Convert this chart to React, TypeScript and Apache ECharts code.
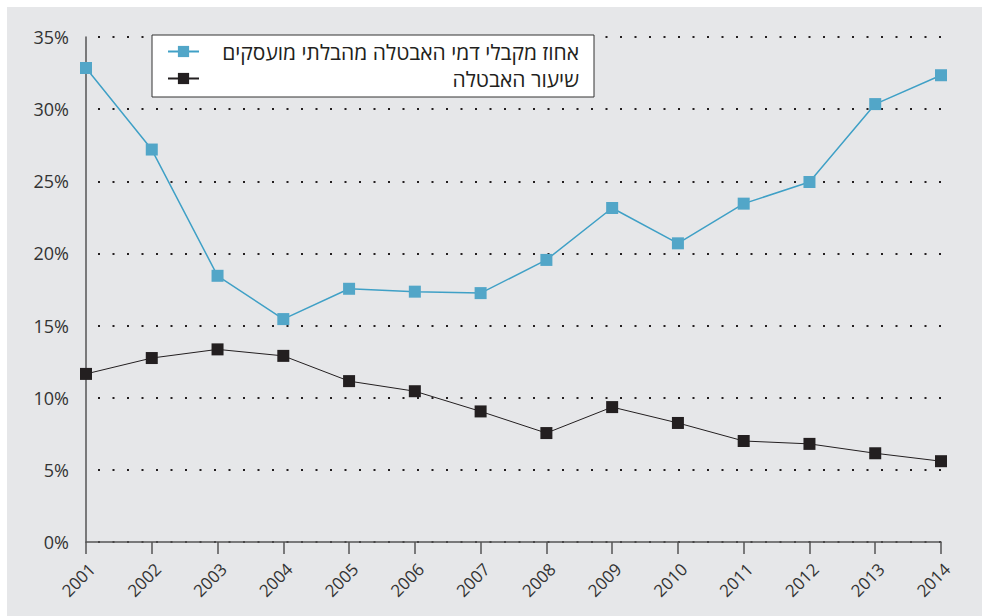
import React, { useEffect, useRef } from "react";
import * as echarts from "echarts";

const years = ["2001","2002","2003","2004","2005","2006","2007","2008","2009","2010","2011","2012","2013","2014"];
const recipientsShare = [32.85, 27.2, 18.45, 15.45, 17.55, 17.35, 17.25, 19.55, 23.15, 20.7, 23.45, 24.95, 30.35, 32.35];
const unemploymentRate = [11.65, 12.75, 13.35, 12.9, 11.15, 10.45, 9.05, 7.55, 9.35, 8.25, 7.0, 6.8, 6.15, 5.6];
const seriesNames = ["אחוז מקבלי דמי האבטלה מהבלתי מועסקים", "שיעור האבטלה"];

const FONT = "'Open Sans', 'Noto Sans', sans-serif";

export default function App() {
  const ref = useRef<HTMLDivElement>(null);
  useEffect(() => {
    if (!ref.current) return;
    const chart = echarts.init(ref.current, undefined, { renderer: "svg" });
    chart.setOption({
      animation: false,
      backgroundColor: "#ffffff",
      textStyle: { fontFamily: FONT },
      graphic: [
        {
          type: "rect",
          z: -10,
          silent: true,
          shape: { x: 7, y: 7, width: 980, height: 609 },
          style: { fill: "#e6e7e9" },
        },
      ],
      grid: { left: 86, right: 41, top: 37, bottom: 74, containLabel: false },
      legend: {
        orient: "vertical",
        left: 152,
        top: 35,
        backgroundColor: "#ffffff",
        borderColor: "#333333",
        borderWidth: 1,
        padding: [6, 15, 8, 15],
        itemWidth: 31,
        itemHeight: 14,
        itemGap: 6,
        data: seriesNames,
        formatter: "{a|{name}}",
        textStyle: {
          fontFamily: FONT,
          fontSize: 21,
          lineHeight: 21,
          color: "#231f20",
          rich: { a: { width: 375, align: "right", fontSize: 21, lineHeight: 21, fontFamily: FONT, color: "#231f20" } },
        },
      },
      xAxis: {
        type: "category",
        data: years,
        boundaryGap: false,
        axisLine: { show: true, lineStyle: { color: "#555555", width: 1.5 } },
        axisTick: { show: true, length: 12, lineStyle: { color: "#555555", width: 1.5 } },
        axisLabel: {
          rotate: 45,
          fontSize: 17,
          color: "#333333",
          fontFamily: FONT,
          margin: 18,
          interval: 0,
          verticalAlign: "top",
          padding: 0,
        },
        splitLine: { show: false },
      },
      yAxis: {
        type: "value",
        min: 0,
        max: 35,
        interval: 5,
        axisLine: { show: true, lineStyle: { color: "#555555", width: 1.5 } },
        axisTick: { show: false },
        axisLabel: { formatter: "{value}%", fontSize: 18, color: "#333333", fontFamily: FONT, margin: 17 },
        splitLine: {
          show: true,
          lineStyle: { color: "#231f20", width: 2, type: [2, 12.5], dashOffset: -12 },
        },
      },
      series: [
        {
          name: seriesNames[0],
          type: "line",
          data: recipientsShare,
          symbol: "rect",
          symbolSize: 12,
          showAllSymbol: true,
          itemStyle: { color: "#52a6c8" },
          lineStyle: { color: "#3fa0c6", width: 1.5 },
          z: 3,
        },
        {
          name: seriesNames[1],
          type: "line",
          data: unemploymentRate,
          symbol: "rect",
          symbolSize: 12,
          showAllSymbol: true,
          itemStyle: { color: "#231f20" },
          lineStyle: { color: "#231f20", width: 1 },
          z: 3,
        },
      ],
    });
    return () => chart.dispose();
  }, []);
  return (
    <div style={{ position: "absolute", left: 0, top: 0, width: 982, height: 616 }}>
      <div ref={ref} style={{ width: 982, height: 616 }} />
    </div>
  );
}
